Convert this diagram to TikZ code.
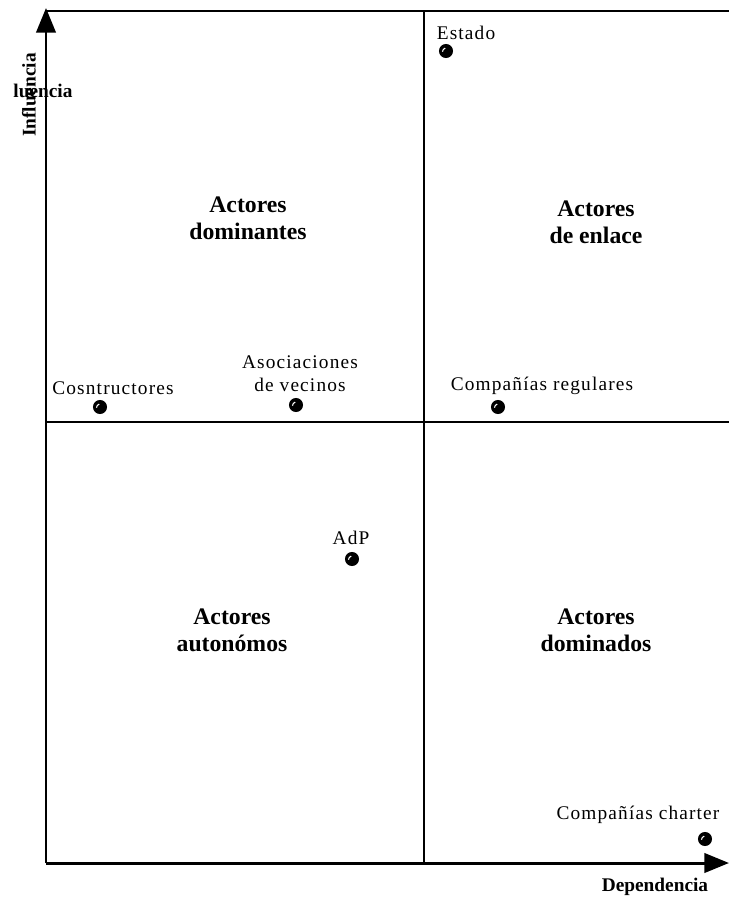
\documentclass[tikz,border=0pt]{standalone}
\usepackage{fontspec}
\setmainfont{Liberation Serif}
\newfontfamily\lblfont[LetterSpace=6]{Liberation Serif}
\usetikzlibrary{arrows.meta}
\tikzset{
	axis/.style={line width=1.7pt, -{Triangle[length=14pt, width=11pt]}},
	frame/.style={line width=1.5pt},
	actor/.style={circle, fill=black, inner sep=0pt, minimum size=8pt,
		path picture={\draw[white, line width=.6pt] ([shift={(-2pt,-.4pt)}]path picture bounding box.center) arc[start angle=180, end angle=105, radius=2.1pt];}},
	lbl/.style={font=\lblfont\fontsize{11}{13}\selectfont, align=center, inner sep=0pt},
	zone/.style={font=\bfseries\fontsize{13.5}{15.5}\selectfont, align=center, inner sep=0pt},
	axlbl/.style={font=\bfseries\fontsize{11}{13}\selectfont, inner sep=0pt}
}
\begin{document}
\begin{tikzpicture}[x=0.02cm, y=-0.02cm, line join=round]
	\useasboundingbox (0,0) rectangle (729,900);
	% cuadrantes
	\draw[frame] (46,11)--(729,11) (424,11)--(424,863) (46,422)--(729,422);
	\draw[axis] (46,863)--(46,8);
	\draw[axis] (46,863)--(729,863);
	\node[axlbl, rotate=90] (influencia) at (29,95) {Influencia};
	\node[axlbl] (luencia) at (43,91) {luencia};
	\node[axlbl] (dependencia) at (655,887) {Dependencia};
	% zonas
	\node[zone] (dominantes) at (248,218) {Actores\\dominantes};
	\node[zone] (enlace) at (596,222) {Actores\\de enlace};
	\node[zone] (autonomos) at (232,630) {Actores\\auton\'omos};
	\node[zone] (dominados) at (596,630) {Actores\\dominados};
	% actores
	\foreach \n/\x/\y in {estado/446/51, constr/100/407, vecinos/296/405, regulares/498/407, adp/352/559, charter/705/839}
		\node[actor] (\n) at (\x,\y) {};
	\node[lbl] (t-estado) at (466,33) {Estado};
	\node[lbl] (t-constr) at (113,388) {Cosntructores};
	\node[lbl] (t-vecinos) at (300,374) {Asociaciones\\de vecinos};
	\node[lbl] (t-regulares) at (542,386) {Compañías regulares};
	\node[lbl] (t-adp) at (351,538) {AdP};
	\node[lbl] (t-charter) at (638,815) {Compañías charter};
\end{tikzpicture}
\end{document}
